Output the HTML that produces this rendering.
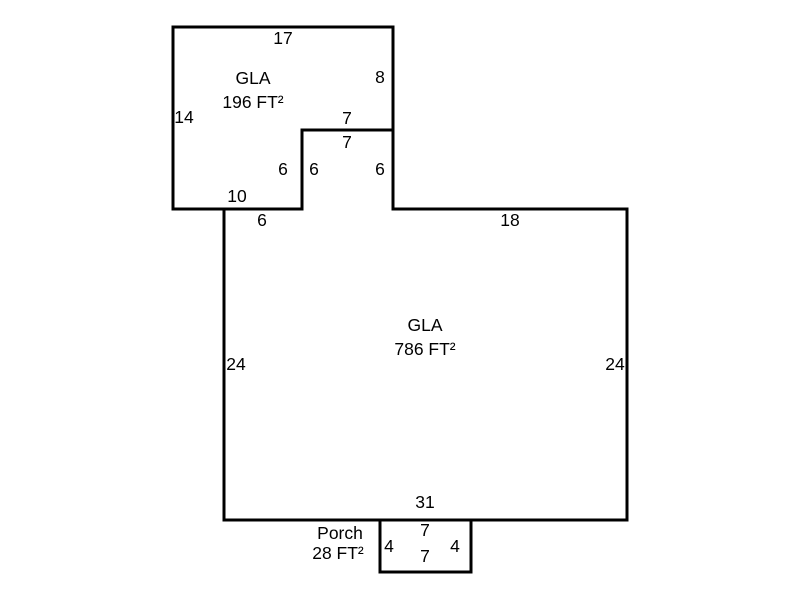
<!DOCTYPE html>
<html><head><style>
body{margin:0;background:#fff;}
svg text{font-family:"Liberation Sans",Arial,sans-serif;font-size:17.5px;fill:#000;}
</style></head><body>
<svg width="800" height="600" viewBox="0 0 800 600" xmlns="http://www.w3.org/2000/svg">
<g fill="none" stroke="#000" stroke-width="3" stroke-linejoin="miter">
<polygon points="173,27 393,27 393,130 302,130 302,209 173,209"/>
<polygon points="224,209 302,209 302,130 393,130 393,209 627,209 627,520 224,520"/>
<rect x="380" y="520" width="91" height="52"/>
</g>
<g text-anchor="middle">
<text x="283" y="44">17</text>
<text x="253" y="84">GLA</text>
<text x="253" y="108">196 FT²</text>
<text x="380" y="83">8</text>
<text x="184" y="123">14</text>
<text x="347" y="124">7</text>
<text x="347" y="148">7</text>
<text x="283" y="175">6</text>
<text x="314" y="175">6</text>
<text x="380" y="175">6</text>
<text x="237" y="202">10</text>
<text x="262" y="226">6</text>
<text x="510" y="226">18</text>
<text x="425" y="331">GLA</text>
<text x="425" y="355">786 FT²</text>
<text x="236" y="370">24</text>
<text x="615" y="370">24</text>
<text x="425" y="508">31</text>
<text x="340" y="539">Porch</text>
<text x="338" y="559">28 FT²</text>
<text x="425" y="536">7</text>
<text x="425" y="562">7</text>
<text x="389" y="552">4</text>
<text x="455" y="552">4</text>
</g>
</svg>
</body></html>
